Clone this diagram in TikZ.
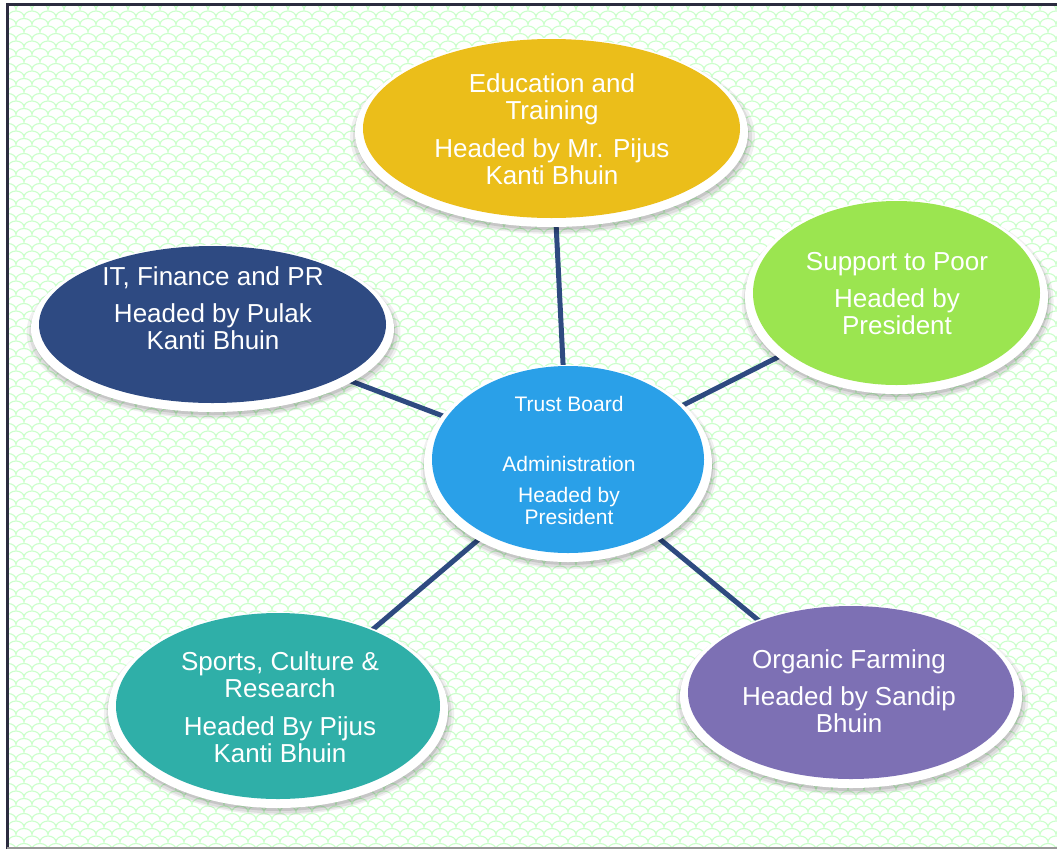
\documentclass[tikz,border=0pt]{standalone}
\usepackage{fontspec}
\setmainfont{Liberation Sans}
\usetikzlibrary{shapes.geometric,shadows}
\pgfdeclarelayer{pat}
\pgfdeclarelayer{background}
\pgfsetlayers{pat,background,main}
\definecolor{patgreen}{RGB}{204,255,204}
\definecolor{conncol}{RGB}{46,74,128}
\definecolor{cEdu}{RGB}{235,190,26}
\definecolor{cIT}{RGB}{46,74,130}
\definecolor{cPoor}{RGB}{155,229,80}
\definecolor{cCtr}{RGB}{42,160,232}
\definecolor{cSport}{RGB}{47,175,168}
\definecolor{cOrg}{RGB}{125,112,180}
\definecolor{framecol}{RGB}{43,43,63}
\tikzset{
  outerbub/.style={ellipse, fill=white, inner sep=0pt, outer sep=0pt,
    general shadow={shadow xshift=1pt, shadow yshift=-4pt, shadow scale=1.03, opacity=0.06, fill=black},
    general shadow={shadow xshift=1pt, shadow yshift=-4pt, shadow scale=1.015, opacity=0.08, fill=black},
    general shadow={shadow xshift=1pt, shadow yshift=-3pt, shadow scale=1.0, opacity=0.10, fill=black}},
  innerbub/.style={ellipse, inner sep=0pt, outer sep=0pt},
  txt/.style={text=white, align=center, inner sep=0pt,
    font=\fontsize{26}{27}\selectfont},
  ctxt/.style={text=white, align=center, inner sep=0pt,
    font=\fontsize{21}{22}\selectfont},
  conn/.style={draw=conncol, line width=5pt},
  patline/.style={draw=patgreen, line width=1.15pt}
}
\begin{document}
\begin{tikzpicture}[x=1pt,y=-1pt]
\useasboundingbox (0,0) rectangle (1057,849);

% white outer ellipses
\node[outerbub, minimum width=393pt, minimum height=189pt] (edu) at (551.5,132.5) {};
\node[outerbub, minimum width=363pt, minimum height=167pt] (it) at (212.5,328.5) {};
\node[outerbub, minimum width=303pt, minimum height=194pt] (poor) at (896.5,297) {};
\node[outerbub, minimum width=288pt, minimum height=197pt] (ctr) at (568,463.5) {};
\node[outerbub, minimum width=340pt, minimum height=196pt] (sport) at (278,710) {};
\node[outerbub, minimum width=342pt, minimum height=183pt] (org) at (851,696.5) {};

% coloured inner ellipses
\node[innerbub, fill=cEdu, minimum width=377pt, minimum height=179pt] (edu-in) at (551.5,128.5) {};
\node[innerbub, fill=cIT, minimum width=347pt, minimum height=157pt] (it-in) at (212.5,324.5) {};
\node[innerbub, fill=cPoor, minimum width=287pt, minimum height=184pt] (poor-in) at (896.5,293) {};
\node[innerbub, fill=cCtr, minimum width=272pt, minimum height=187pt] (ctr-in) at (568,459.5) {};
\node[innerbub, fill=cSport, minimum width=324pt, minimum height=186pt] (sport-in) at (278,706) {};
\node[innerbub, fill=cOrg, minimum width=326pt, minimum height=173pt] (org-in) at (851,692.5) {};

% texts
\node[txt] (edu-t) at (552,129) {Education and\\Training\\[11pt]Headed by Mr. Pijus\\Kanti Bhuin};
\node[txt] (it-t) at (213,308) {IT, Finance and PR\\[10pt]Headed by Pulak\\Kanti Bhuin};
\node[txt] (poor-t) at (897,294) {Support to Poor\\[10pt]Headed by\\President};
\node[ctxt] (ctr-t) at (569,460) {Trust Board\\[38pt]Administration\\[9pt]Headed by\\President};
\node[txt] (sport-t) at (280,707) {Sports, Culture \&\\Research\\[11pt]Headed By Pijus\\Kanti Bhuin};
\node[txt] (org-t) at (849,691) {Organic Farming\\[10pt]Headed by Sandip\\Bhuin};

% connectors
\begin{pgfonlayer}{background}
\draw[conn] (ctr.center) -- (edu.center);
\draw[conn] (ctr.center) -- (it.center);
\draw[conn] (ctr.center) -- (poor.center);
\draw[conn] (ctr.center) -- (sport.center);
\draw[conn] (ctr.center) -- (org.center);
\end{pgfonlayer}

% background pattern and frame
\begin{pgfonlayer}{pat}
\fill[white] (0,0) rectangle (1057,849);
\begin{scope}
\clip (8,5) rectangle (1057,846);
\foreach \r in {0,...,113}{
  \draw[patline] ({8*mod(\r,2)-8},{2+7.5*\r})
    \foreach \i in {0,...,66}{ arc[start angle=180, end angle=360, x radius=8, y radius=6] };
}
\end{scope}
\draw[draw=framecol, line width=3pt] (7,849) -- (7,4) -- (1057,4);
\draw[draw=black!40, line width=2pt] (7,847.5) -- (1057,847.5);
\end{pgfonlayer}
\end{tikzpicture}
\end{document}
